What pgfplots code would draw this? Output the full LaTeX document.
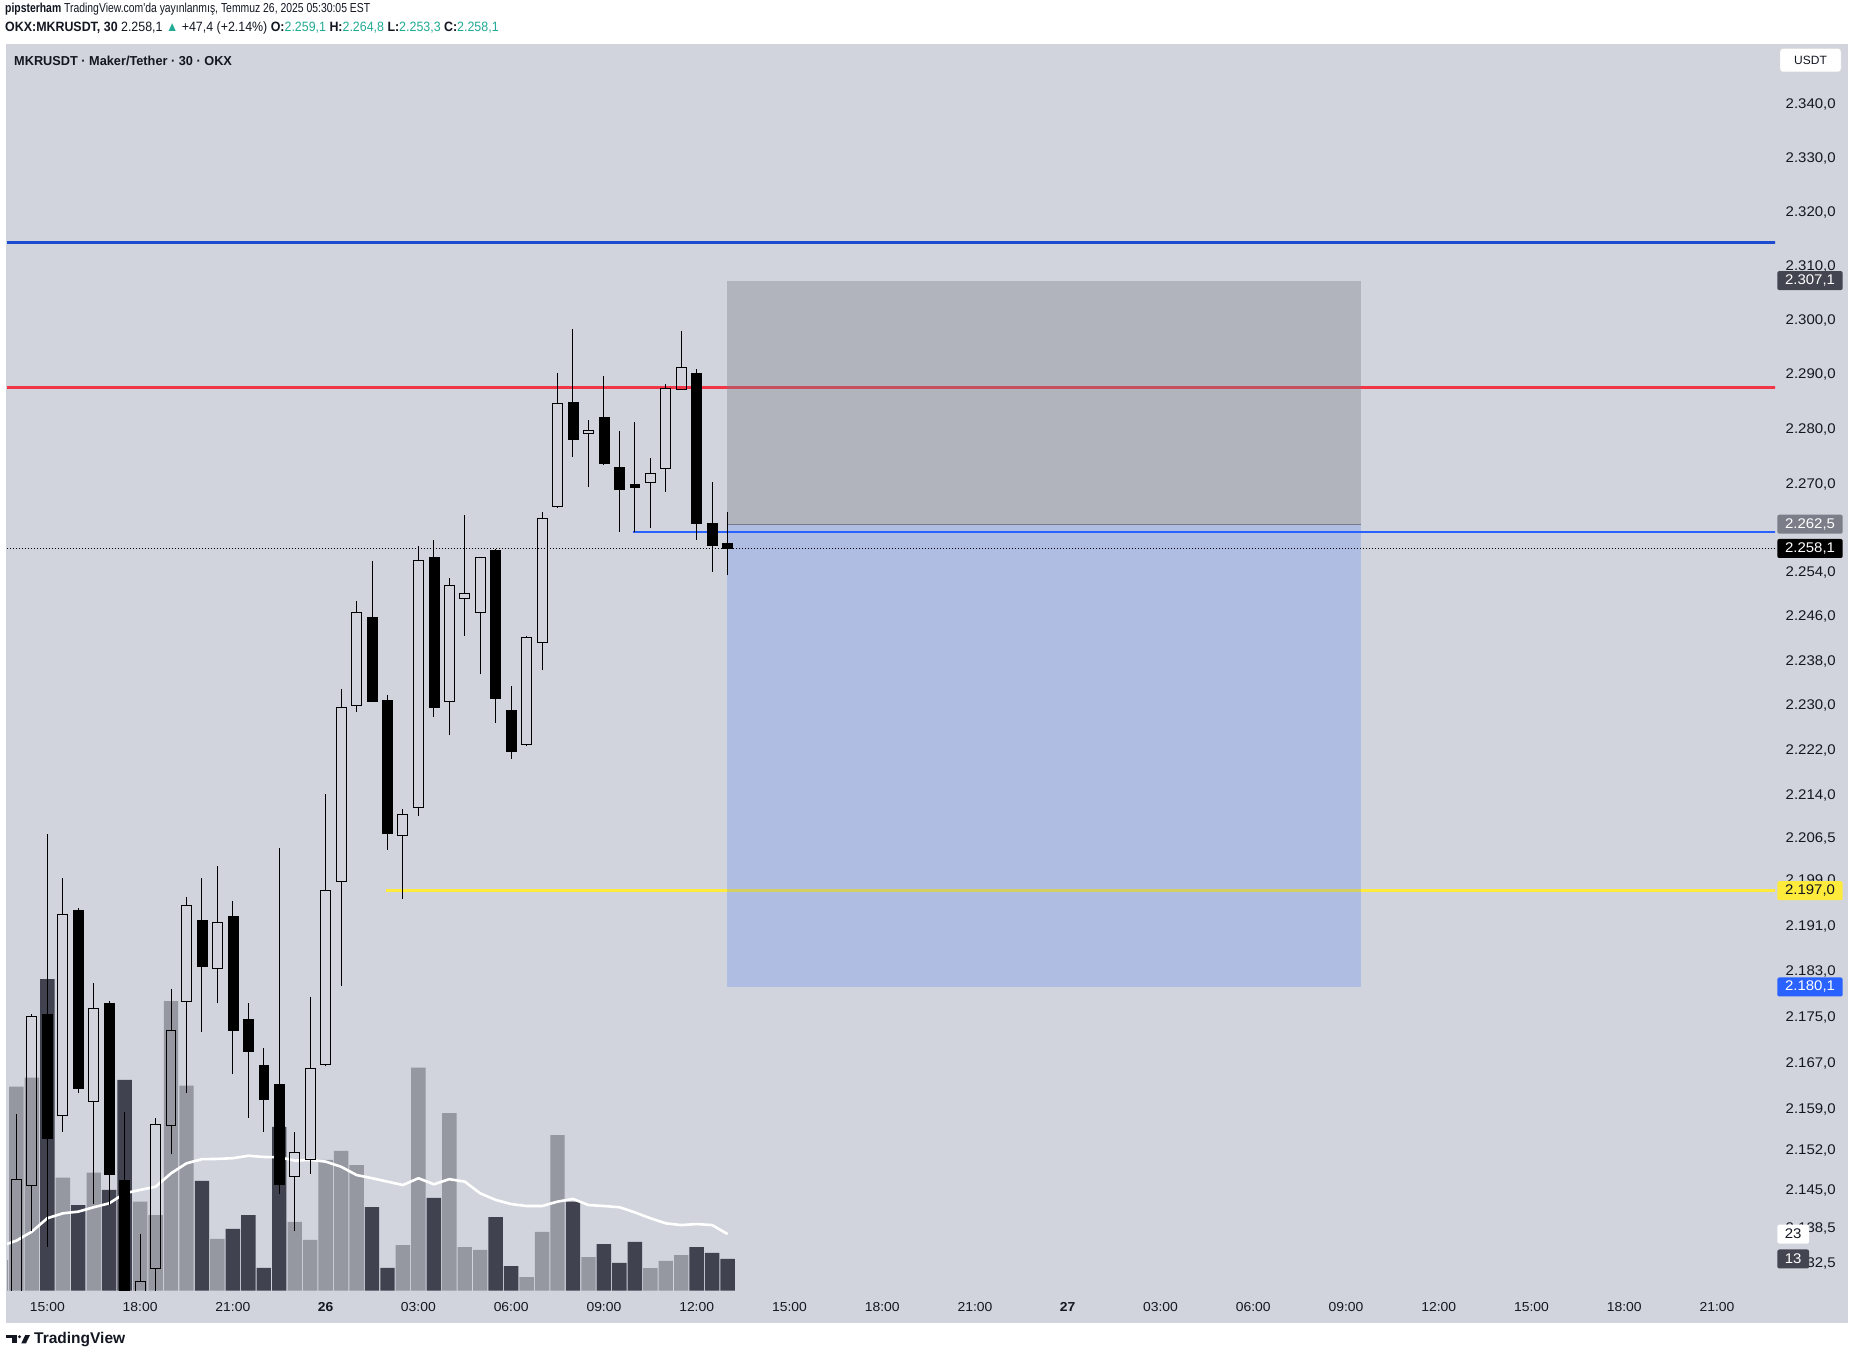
\documentclass[border=0pt]{standalone}
\usepackage{fontspec}
\setmainfont{Liberation Sans}
\newfontfamily\hdrfont[FakeStretch=0.8]{Liberation Sans}
\newfontfamily\hdrfontb[FakeStretch=0.92]{Liberation Sans}
\newfontfamily\ttlfont[FakeStretch=0.98]{Liberation Sans}
\newfontfamily\plfont[FakeStretch=1.07]{Liberation Sans}
\usepackage{pgfplots}
\pgfplotsset{compat=1.18}
\definecolor{bg}{HTML}{D1D4DC}
\definecolor{tvtext}{HTML}{131722}
\definecolor{vlight}{HTML}{9598A1}
\definecolor{vdark}{HTML}{40434F}
\definecolor{upc}{HTML}{22AB94}
\definecolor{blueline}{HTML}{1C4BD0}
\definecolor{redline}{HTML}{F23645}
\definecolor{yel}{HTML}{FFEB3B}
\definecolor{tvblue}{HTML}{2962FF}
\definecolor{posgray}{HTML}{787B86}
\definecolor{lbldark}{HTML}{434651}
\definecolor{lblgray}{HTML}{7B7E89}

\pgfplotsset{
  wick/.style={black, line width=1pt},
  downbody/.style={draw=black, fill=black, line width=0.6pt},
  upbody/.style={draw=black, fill=none, line width=1pt},
}
% candle: x, open, high, low, close
\newcommand\cdl[5]{%
  \pgfmathsetmacro\xl{#1-0.32}%
  \pgfmathsetmacro\xr{#1+0.32}%
  \ifdim #5pt<#2pt
    \edef\doit{%
      \noexpand\addplot[wick] coordinates {(#1,#4) (#1,#3)};%
      \noexpand\addplot[downbody] coordinates {(\xl,#2) (\xr,#2) (\xr,#5) (\xl,#5)} -- cycle;%
    }%
  \else
    \edef\doit{%
      \noexpand\addplot[wick] coordinates {(#1,#4) (#1,#2)};%
      \noexpand\addplot[wick] coordinates {(#1,#5) (#1,#3)};%
      \noexpand\addplot[upbody] coordinates {(\xl,#2) (\xr,#2) (\xr,#5) (\xl,#5)} -- cycle;%
    }%
  \fi
  \doit}

\pgfplotstableread{
x v
-3 12.6
-2 83.6
-1 87.3
1 46.3
3 48.4
6 36.5
7 31.0
8 118.7
9 84.0
11 21.2
16 28.2
17 20.8
18 53.6
19 57.3
20 51.5
23 18.7
24 91.4
26 72.8
27 17.9
28 16.7
31 5.6
32 24.1
33 63.8
35 13.8
39 9.3
40 12.2
41 14.6
}\volup
\pgfplotstableread{
x v
0 127.7
2 35.1
4 41.3
5 86.4
10 45.0
12 25.3
13 31.0
14 9.4
15 67.1
21 34.3
22 9.4
25 38.0
29 30.2
30 10.1
34 36.5
36 19.1
37 11.4
38 20.0
42 17.9
43 15.5
44 13.0
}\voldown
\pgfplotstableread{
x m
-3 18.3
-2 20.5
-1 24.2
0 29.7
1 31.7
2 32.4
3 34.2
4 35.8
5 39.9
6 41.3
7 42.6
8 48.1
9 52.2
10 53.9
11 54.0
12 54.3
13 55.3
14 54.8
15 54.7
16 53.3
17 53.6
18 52.9
19 50.8
20 47.4
21 46.1
22 44.7
23 43.3
24 46.1
25 43.6
26 45.7
27 44.7
28 39.9
29 37.2
30 35.5
31 34.7
32 34.7
33 36.5
34 37.6
35 35.1
36 34.7
37 34.2
38 32.1
39 29.7
40 27.6
41 26.9
42 27.3
43 26.9
44 23.2
}\volma

\begin{document}
\begin{tikzpicture}
\fill[white] (0pt,0pt) rectangle (1855pt,1360pt);
\fill[bg] (6pt,37.4pt) rectangle (1848pt,1316.2pt);

% volume pane
\begin{scope}[shift={(7pt,69.3pt)}]
\begin{axis}[at={(0pt,0pt)}, anchor=south west, scale only axis,
  width=1768pt, height=1246.9pt, xmin=-2.61, xmax=111.75, ymin=0, ymax=511,
  hide axis, enlargelimits=false]
\addplot[ybar, bar width=14.4pt, bar shift=0pt, fill=vlight, draw=none] table[x=x,y=v] {\volup};
\addplot[ybar, bar width=14.4pt, bar shift=0pt, fill=vdark, draw=none] table[x=x,y=v] {\voldown};
\addplot[white, line width=2.6pt, line join=round] table[x=x,y=m] {\volma};
\end{axis}
\end{scope}

% price pane (logarithmic price scale through a coordinate transformation)
\begin{scope}[shift={(7pt,69.3pt)}]
\begin{axis}[at={(0pt,0pt)}, anchor=south west, scale only axis,
  width=1768pt, height=1246.9pt, xmin=-2.61, xmax=111.75,
  y coord trafo/.code={\pgfmathparse{1000*ln((#1)/2127.7)}},
  y coord inv trafo/.code={\pgfmathparse{2127.7*exp((#1)/1000)}},
  ymin=2127.7, ymax=2351.3, enlargelimits=false,
  axis line style={draw=none}, major tick length=0pt,
  xtick={0,6,...,108},
  xticklabels={15:00,18:00,21:00,\textbf{26},03:00,06:00,09:00,12:00,15:00,18:00,21:00,\textbf{27},03:00,06:00,09:00,12:00,15:00,18:00,21:00},
  xticklabel style={anchor=base, inner sep=0pt, yshift=-21pt, font=\plfont\fontsize{13}{15}\selectfont\color{tvtext}},
  ytick={2132.5,2138.5,2145,2152,2159,2167,2175,2183,2191,2199,2206.5,2214,2222,2230,2238,2246,2254,2270,2280,2290,2300,2310,2320,2330,2340},
  yticklabels={{2.132,5},{2.138,5},{2.145,0},{2.152,0},{2.159,0},{2.167,0},{2.175,0},{2.183,0},{2.191,0},{2.199,0},{2.206,5},{2.214,0},{2.222,0},{2.230,0},{2.238,0},{2.246,0},{2.254,0},{2.270,0},{2.280,0},{2.290,0},{2.300,0},{2.310,0},{2.320,0},{2.330,0},{2.340,0}},
  yticklabel pos=right,
  yticklabel style={anchor=base west, inner sep=0pt, xshift=10.5pt, yshift=-5pt, font=\plfont\fontsize{14}{16}\selectfont\color{tvtext}},
]
% horizontal drawings
\addplot[blueline, line width=2.4pt] coordinates {(-3,2314.2) (112,2314.2)};
\addplot[redline, line width=2.6pt] coordinates {(-3,2287.5) (112,2287.5)};
\addplot[yel, line width=3pt] coordinates {(21.9,2197.0) (112,2197.0)};
\addplot[tvblue, line width=1.6pt] coordinates {(37.9,2261.1) (112,2261.1)};
% position tool
\addplot[draw=none, fill=posgray, fill opacity=0.35] coordinates {(43.93,2262.5) (84.94,2262.5) (84.94,2307.1) (43.93,2307.1)} -- cycle;
\addplot[draw=none, fill=tvblue, fill opacity=0.2] coordinates {(43.93,2180.1) (84.94,2180.1) (84.94,2262.5) (43.93,2262.5)} -- cycle;
\addplot[posgray, line width=0.8pt] coordinates {(43.93,2262.5) (84.94,2262.5)};
% current price
\addplot[black, line width=0.9pt, dash pattern=on 1pt off 2pt] coordinates {(-3,2258.1) (112,2258.1)};
% candles: x, open, high, low, close
\cdl{-2}{2118}{2158.1}{2110}{2146.8}
\cdl{-1}{2145.7}{2175.5}{2137.8}{2175.1}
\cdl{0}{2175.4}{2207.0}{2135.2}{2153.9}
\cdl{1}{2157.8}{2199.2}{2154.9}{2192.9}
\cdl{2}{2193.5}{2194.1}{2161.7}{2162.5}
\cdl{3}{2160.2}{2180.9}{2142.6}{2176.4}
\cdl{4}{2177.3}{2177.7}{2142.3}{2147.6}
\cdl{5}{2146.6}{2158.5}{2110}{2121}
\cdl{6}{2121}{2137.5}{2115}{2129.3}
\cdl{7}{2131.5}{2157.4}{2124}{2156.2}
\cdl{8}{2156.0}{2179.7}{2151.2}{2172.5}
\cdl{9}{2177.6}{2195.9}{2161.7}{2194.5}
\cdl{10}{2191.9}{2199.2}{2172.3}{2183.7}
\cdl{11}{2183.4}{2201.4}{2177.3}{2191.5}
\cdl{12}{2192.6}{2195.2}{2165.0}{2172.5}
\cdl{13}{2174.5}{2177.3}{2157.4}{2169.0}
\cdl{14}{2166.5}{2169.6}{2154.9}{2160.6}
\cdl{15}{2163.3}{2204.6}{2144.3}{2146.0}
\cdl{16}{2147.3}{2154.9}{2137.8}{2151.4}
\cdl{17}{2150.3}{2178.5}{2147.8}{2165.9}
\cdl{18}{2166.6}{2214.2}{2166.3}{2197.0}
\cdl{19}{2198.7}{2232.9}{2180.3}{2229.5}
\cdl{20}{2229.9}{2248.6}{2228.7}{2246.6}
\cdl{21}{2245.7}{2255.9}{2230.5}{2230.7}
\cdl{22}{2230.8}{2231.8}{2204.3}{2207.1}
\cdl{23}{2206.8}{2211.4}{2195.6}{2210.4}
\cdl{24}{2211.7}{2258.6}{2210.2}{2255.9}
\cdl{25}{2256.6}{2259.7}{2227.9}{2229.6}
\cdl{26}{2230.6}{2252.9}{2224.6}{2251.5}
\cdl{27}{2249.1}{2264.2}{2242.4}{2250.0}
\cdl{28}{2246.6}{2256.6}{2235.5}{2256.5}
\cdl{29}{2257.9}{2258.1}{2226.8}{2231.2}
\cdl{30}{2229.0}{2233.3}{2220.4}{2221.8}
\cdl{31}{2222.9}{2242.3}{2222.7}{2242.1}
\cdl{32}{2241.1}{2264.7}{2236.2}{2263.6}
\cdl{33}{2265.7}{2290.1}{2265.5}{2284.5}
\cdl{34}{2284.7}{2298.2}{2274.8}{2277.9}
\cdl{35}{2279.0}{2281.5}{2269.3}{2279.6}
\cdl{36}{2282.0}{2289.5}{2273.3}{2273.5}
\cdl{37}{2272.9}{2279.5}{2261.1}{2268.8}
\cdl{38}{2269.8}{2281.1}{2261.1}{2269.3}
\cdl{39}{2270.2}{2274.5}{2261.8}{2271.7}
\cdl{40}{2272.7}{2288.1}{2268.4}{2287.2}
\cdl{41}{2287.0}{2297.8}{2287.0}{2291.1}
\cdl{42}{2290.1}{2290.8}{2259.7}{2262.6}
\cdl{43}{2262.7}{2270.3}{2253.9}{2258.6}
\cdl{44}{2259.1}{2264.8}{2253.3}{2258.1}
\end{axis}
\end{scope}

% price scale labels
\tikzset{lbl/.style={minimum width=65.4pt, minimum height=19pt, inner sep=0pt, rounded corners=2pt, font=\plfont\fontsize{14}{16}\selectfont}}
\node[lbl, fill=lbldark, text=white] at (1810pt,1079.4pt) {2.307,1};
\node[lbl, fill=lblgray, text=white] at (1810pt,835.8pt) {2.262,5};
\node[lbl, fill=black, text=white] at (1810pt,811.5pt) {2.258,1};
\node[lbl, fill=yel, text=tvtext] at (1810pt,469.3pt) {2.197,0};
\node[lbl, fill=tvblue, text=white] at (1810pt,373.0pt) {2.180,1};
\node[lbl, minimum width=31.7pt, fill=white, text=tvtext] at (1793.2pt,125.9pt) {23};
\node[lbl, minimum width=31.7pt, fill=lbldark, text=white] at (1793.2pt,101pt) {13};
\node[draw=gray!30, fill=white, rounded corners=3pt, minimum width=61pt, minimum height=23.5pt, inner sep=0pt, font=\fontsize{12}{14}\selectfont, text=tvtext] at (1810.5pt,1299.8pt) {USDT};

% header
\node[anchor=base west, inner sep=0pt, text=tvtext] at (5pt,1347pt) {\hdrfont\fontsize{13}{15}\selectfont\textbf{pipsterham} TradingView.com'da yayınlanmış, Temmuz 26, 2025 05:30:05 EST};
\node[anchor=base west, inner sep=0pt, text=tvtext] at (5pt,1328pt) {\hdrfontb\fontsize{13.5}{15}\selectfont\textbf{OKX:MKRUSDT, 30} 2.258,1 \textcolor{upc}{▲} +47,4 (+2.14\%) \textbf{O:}\textcolor{upc}{2.259,1} \textbf{H:}\textcolor{upc}{2.264,8} \textbf{L:}\textcolor{upc}{2.253,3} \textbf{C:}\textcolor{upc}{2.258,1}};
\node[anchor=base west, inner sep=0pt, text=tvtext] at (14pt,1294.3pt) {\ttlfont\fontsize{13}{14}\selectfont\bfseries MKRUSDT · Maker/Tether · 30 · OKX};

% TradingView logo
\fill[tvtext] (6pt,25pt) rectangle (16.7pt,21.7pt);
\fill[tvtext] (11.7pt,25pt) rectangle (16.7pt,16.7pt);
\fill[tvtext] (19.5pt,23.3pt) circle (1.7pt);
\fill[tvtext] (21.3pt,16.7pt) -- (25.3pt,25pt) -- (30pt,25pt) -- (26pt,16.7pt) -- cycle;
\node[anchor=base west, inner sep=0pt, text=tvtext] at (34pt,16.5pt) {\fontsize{15.5}{17}\selectfont\bfseries TradingView};
\end{tikzpicture}
\end{document}
